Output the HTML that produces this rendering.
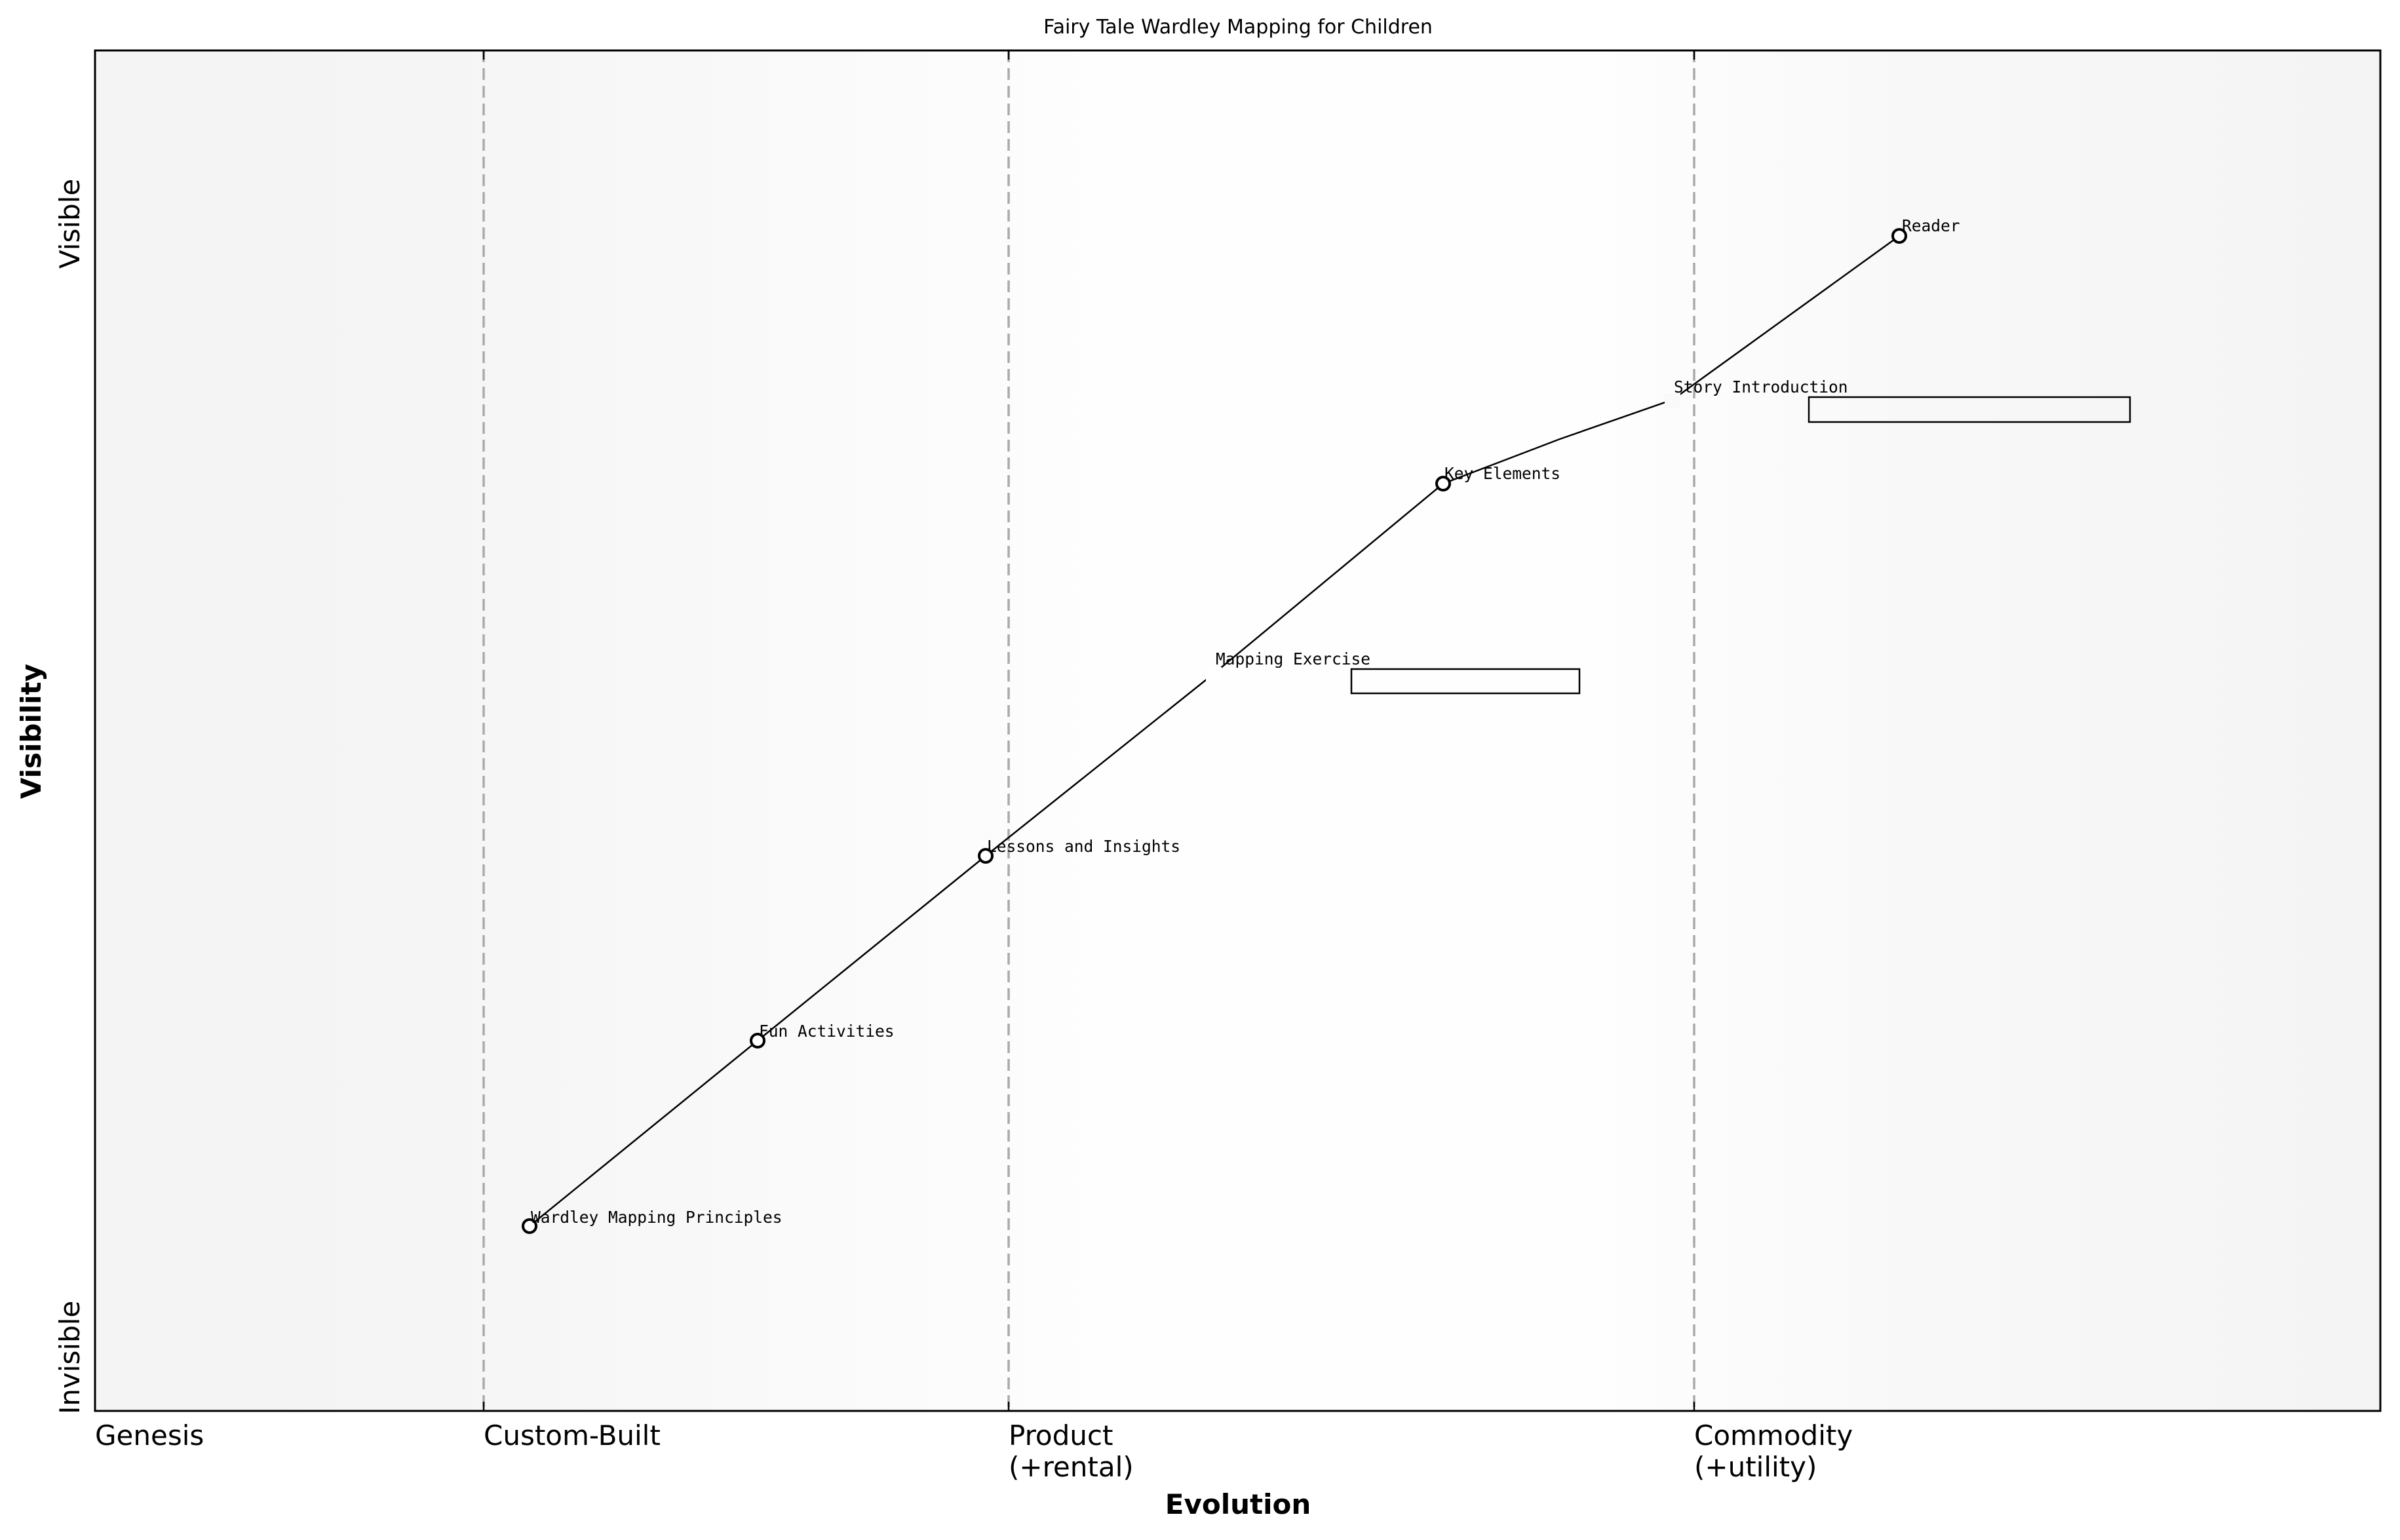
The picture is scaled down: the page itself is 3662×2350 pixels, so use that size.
<!DOCTYPE html>
<html><head><style>
html,body{margin:0;padding:0;background:#fff}
svg{display:block}
</style></head><body>
<svg width="3662" height="2350" viewBox="0 0 3662 2350" xmlns="http://www.w3.org/2000/svg">
<defs>
<linearGradient id="bg" x1="0" x2="1" y1="0" y2="0">
<stop offset="0" stop-color="#f4f4f4"/>
<stop offset="0.15" stop-color="#f5f5f5"/>
<stop offset="0.45" stop-color="#fefefe"/>
<stop offset="0.65" stop-color="#fefefe"/>
<stop offset="0.8" stop-color="#f8f8f8"/>
<stop offset="1" stop-color="#f4f4f4"/>
</linearGradient>
</defs>
<rect x="145" y="77" width="3487" height="2076" fill="url(#bg)"/>
<g stroke="#aaaaaa" stroke-width="3.5" stroke-dasharray="18,9">
<line x1="738" y1="77" x2="738" y2="2153"/>
<line x1="1539" y1="77" x2="1539" y2="2153"/>
<line x1="2585" y1="77" x2="2585" y2="2153"/>
</g>
<g stroke="#000" stroke-width="2.5">
<line x1="738" y1="77" x2="738" y2="91"/><line x1="738" y1="2139" x2="738" y2="2153"/>
<line x1="1539" y1="77" x2="1539" y2="91"/><line x1="1539" y1="2139" x2="1539" y2="2153"/>
<line x1="2585" y1="77" x2="2585" y2="91"/><line x1="2585" y1="2139" x2="2585" y2="2153"/>
</g>
<rect x="145" y="77" width="3487" height="2076" fill="none" stroke="#000" stroke-width="3"/>
<polyline points="808,1871 1156,1588 1504,1306 1852,1028 2202,738 2380,670 2552,610 2898,360" fill="none" stroke="#000" stroke-width="2.5"/>
<rect x="1840" y="1018" width="24" height="22" fill="#fff"/>
<rect x="2540" y="600" width="24" height="22" fill="#f9f9f9"/>
<g fill="#fff" stroke="#000" stroke-width="4">
<circle cx="808" cy="1871" r="10"/>
<circle cx="1156" cy="1588" r="10"/>
<circle cx="1504" cy="1306" r="10"/>
<circle cx="2202" cy="738" r="10"/>
<circle cx="2898" cy="360" r="10"/>
</g>
<g fill="none" stroke="#000" stroke-width="2.5">
<rect x="2760" y="606" width="490" height="38"/>
<rect x="2062" y="1021" width="348" height="37"/>
</g>
<g font-family="DejaVu Sans Mono, Liberation Mono, monospace" font-size="24.5" fill="#000">
<text x="810" y="1866">Wardley Mapping Principles</text>
<text x="1158" y="1582">Fun Activities</text>
<text x="1506" y="1300">Lessons and Insights</text>
<text x="1855" y="1014">Mapping Exercise</text>
<text x="2204" y="731">Key Elements</text>
<text x="2554" y="599">Story Introduction</text>
<text x="2902" y="353">Reader</text>
</g>
<g font-family="DejaVu Sans, Liberation Sans, sans-serif" fill="#000">
<text x="1889" y="51" font-size="30" text-anchor="middle">Fairy Tale Wardley Mapping for Children</text>
<g font-size="42">
<text x="145" y="2205">Genesis</text>
<text x="738" y="2205">Custom-Built</text>
<text x="1539" y="2205">Product</text>
<text x="1539" y="2253">(+rental)</text>
<text x="2585" y="2205">Commodity</text>
<text x="2585" y="2253">(+utility)</text>
<text transform="translate(121,410) rotate(-90)">Visible</text>
<text transform="translate(121,2158) rotate(-90)">Invisible</text>
</g>
<text x="1889" y="2310" font-size="42" font-weight="bold" text-anchor="middle">Evolution</text>
<text transform="translate(62,1116) rotate(-90)" font-size="42" font-weight="bold" text-anchor="middle">Visibility</text>
</g>
</svg>
</body></html>
